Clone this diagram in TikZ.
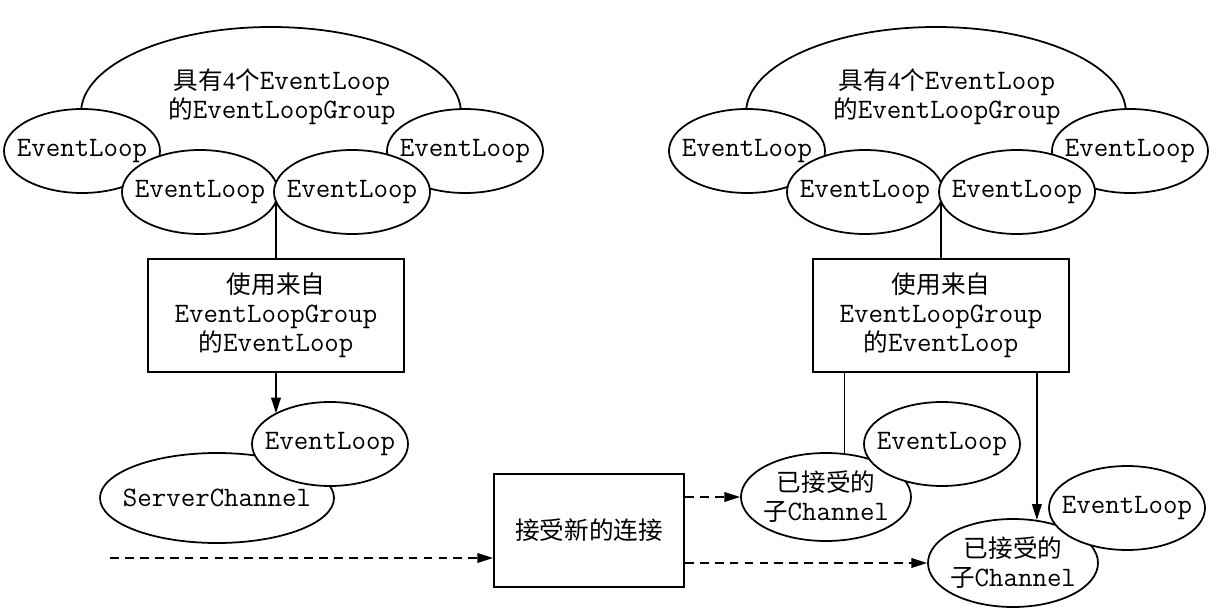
\documentclass[tikz,border=0pt]{standalone}
\usepackage{fontspec}
\setmainfont{Liberation Serif}
\newfontfamily\cjk{Noto Sans CJK SC}
\usetikzlibrary{shapes.geometric,arrows.meta}
\newlength\px
\setlength\px{0.02cm}
\newcommand\zh[1]{{\cjk #1}}
\newcommand\mono[1]{{\fontsize{16}{16.5}\selectfont\ttfamily #1}}
\newcommand\evl{\mono{EventLoop}}
\tikzset{
  every node/.style={font=\fontsize{14}{16.5}\selectfont},
  oval/.style={ellipse, draw, fill=white, line width=1pt, inner sep=0pt},
  evloop/.style={oval, minimum width=156\px, minimum height=84\px, label=center:\evl},
  grp/.style={oval, minimum width=380\px, minimum height=172\px,
    label={[xshift=11\px, yshift=16\px, align=center]center:{\zh{具有}4\zh{个}\evl\\\zh{的}\mono{EventLoopGroup}}}},
  chan/.style={oval, minimum width=170\px, minimum height=88\px,
    label={[align=center]center:{\zh{已接受的}\\\zh{子}\mono{Channel}}}},
  pickbox/.style={draw, fill=white, line width=1pt, minimum width=256\px, minimum height=113\px, align=center},
  link/.style={line width=.9pt},
  arr/.style={link, -{Triangle[length=9pt,width=5.5pt]}},
  darr/.style={arr, dash pattern=on 5pt off 3.5pt}
}
\begin{document}
\begin{tikzpicture}[x=\px, y=-\px]
\useasboundingbox (0,0) rectangle (1218,612);
% the two groups are the same, the right one is shifted
\foreach \s/\d in {L/0, R/665} {
  \node[grp] (grp\s) at (\d+271,113) {};
  \node[evloop] (ev\s1) at (\d+82,151) {};
  \node[evloop] (ev\s4) at (\d+465,151) {};
  \node[evloop] (ev\s2) at (\d+200,192) {};
  \node[evloop] (ev\s3) at (\d+352,192) {};
  \coordinate (join\s) at (\d+276,201);
  \node[pickbox] (use\s) at (\d+276,315.5) {\zh{使用来自}\\\mono{EventLoopGroup}\\\zh{的}\evl};
  \draw[link] (join\s) -- (use\s);
}
% server side
\node[oval, minimum width=234\px, minimum height=90\px, label=center:\mono{ServerChannel}] (srv) at (217,498) {};
\node[evloop] (srvev) at (330,444) {};
\draw[arr] (useL.south) -- (useL.south |- srvev.151);
\node[pickbox, minimum width=190\px] (accept) at (589,530.5) {\zh{接受新的连接}};
\coordinate (inflow) at (110,558);
\draw[darr] (inflow) -- (inflow -| accept.west);
% accepted channels
\node[chan] (chan1) at (826,497) {};
\node[evloop] (chanev1) at (942,444) {};
\node[chan] (chan2) at (1013,563) {};
\node[evloop] (chanev2) at (1127,508) {};
\draw[link] (chan1.67 |- useR.south) -- (chan1.67);
\draw[arr] (chan2.61 |- useR.south) -- (chan2.61);
\draw[darr] (accept.east |- chan1) -- (chan1);
\draw[darr] (accept.east |- chan2) -- (chan2);
\end{tikzpicture}
\end{document}
